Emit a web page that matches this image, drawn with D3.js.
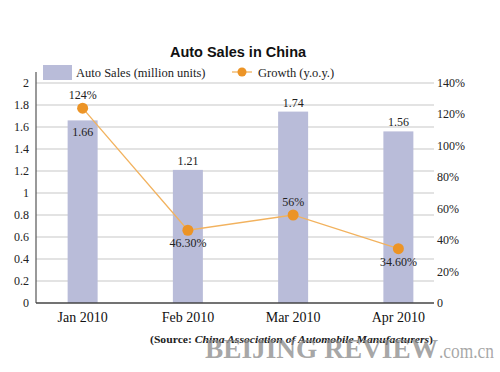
<!DOCTYPE html>
<html>
<head>
<meta charset="utf-8">
<script src="https://cdn.jsdelivr.net/npm/d3@7"></script>
<style>
  body { margin: 0; background: #fff; }
  svg { display: block; }
</style>
</head>
<body>
<div id="root"></div>
<script>
const width = 500;
const height = 372;

const months = ['Jan 2010', 'Feb 2010', 'Mar 2010', 'Apr 2010'];
const sales = [1.66, 1.21, 1.74, 1.56];
const growth = [124, 46.3, 56, 34.6];
const salesLabels = ['1.66', '1.21', '1.74', '1.56'];
const growthLabels = ['124%', '46.30%', '56%', '34.60%'];
const leftTicks = [0, 0.2, 0.4, 0.6, 0.8, 1, 1.2, 1.4, 1.6, 1.8, 2];
const rightTicks = [0, 20, 40, 60, 80, 100, 120, 140];

const barColor = '#b9bcd9';
const lineColor = '#f2b25e';
const dotColor = '#ec9426';
const serif = '"Liberation Serif", "DejaVu Serif", serif';

const svg = d3.select('#root').append('svg')
  .attr('width', width)
  .attr('height', height);

// scales
const x = d3.scalePoint().domain(months).range([30, 451]).padding(0.5);
const y = d3.scaleLinear().domain([0, 2]).range([303, 83]);
const yR = d3.scaleLinear().domain([0, 140]).range([303, 83]);
const plotLeft = 36, plotRight = 434;
const barW = 30;

// grid
svg.append('g')
  .selectAll('line')
  .data(leftTicks.slice(1)).enter()
  .append('line')
    .attr('x1', plotLeft).attr('x2', plotRight)
    .attr('y1', d => y(d)).attr('y2', d => y(d))
    .style('stroke', '#c8c8c8')
    .style('stroke-width', 1.2);

// bars
svg.append('g')
  .selectAll('rect')
  .data(sales).enter()
  .append('rect')
    .attr('x', (d, i) => x(months[i]) - barW / 2)
    .attr('y', d => y(d))
    .attr('width', barW)
    .attr('height', d => y(0) - y(d))
    .style('fill', barColor);

// axes lines
svg.append('line')
  .attr('x1', plotLeft).attr('x2', plotLeft)
  .attr('y1', 72).attr('y2', y(0))
  .style('stroke', '#555').style('stroke-width', 1.2);
svg.append('line')
  .attr('x1', plotLeft).attr('x2', plotRight)
  .attr('y1', y(0)).attr('y2', y(0))
  .style('stroke', '#444').style('stroke-width', 1.5);

// left tick labels
svg.append('g')
  .selectAll('text')
  .data(leftTicks).enter()
  .append('text')
    .attr('x', 29)
    .attr('y', d => y(d) + 4)
    .attr('text-anchor', 'end')
    .style('font-family', serif)
    .style('font-size', '12px')
    .style('fill', '#222')
    .text(d => d3.format('~g')(d));

// right tick labels
svg.append('g')
  .selectAll('text')
  .data(rightTicks).enter()
  .append('text')
    .attr('x', 437)
    .attr('y', d => yR(d) + 4)
    .style('font-family', serif)
    .style('font-size', '12px')
    .style('fill', '#222')
    .text(d => d === 0 ? '0' : d + '%');

// x labels
svg.append('g')
  .selectAll('text')
  .data(months).enter()
  .append('text')
    .attr('x', d => x(d))
    .attr('y', 322)
    .attr('text-anchor', 'middle')
    .style('font-family', serif)
    .style('font-size', '14px')
    .style('fill', '#111')
    .text(d => d);

// growth line
const line = d3.line()
  .x((d, i) => x(months[i]))
  .y(d => yR(d));

svg.append('path')
  .datum(growth)
  .attr('d', line)
  .style('fill', 'none')
  .style('stroke', lineColor)
  .style('stroke-width', 1.3);

svg.append('g')
  .selectAll('circle')
  .data(growth).enter()
  .append('circle')
    .attr('cx', (d, i) => x(months[i]))
    .attr('cy', d => yR(d))
    .attr('r', 5.5)
    .style('fill', dotColor);

// bar value labels: first inside bar, others above
svg.append('g')
  .selectAll('text')
  .data(sales).enter()
  .append('text')
    .attr('x', (d, i) => x(months[i]))
    .attr('y', (d, i) => i === 0 ? y(d) + 16 : y(d) - 5)
    .attr('text-anchor', 'middle')
    .style('font-family', serif)
    .style('font-size', '12px')
    .style('fill', '#222')
    .text((d, i) => salesLabels[i]);

// growth labels: above for Jan / Mar, below for Feb / Apr
const growthAbove = [true, false, true, false];
svg.append('g')
  .selectAll('text')
  .data(growth).enter()
  .append('text')
    .attr('x', (d, i) => x(months[i]))
    .attr('y', (d, i) => growthAbove[i] ? yR(d) - 9 : yR(d) + 17)
    .attr('text-anchor', 'middle')
    .style('font-family', serif)
    .style('font-size', '12px')
    .style('fill', '#222')
    .text((d, i) => growthLabels[i]);

// legend
const legend = svg.append('g');
legend.append('rect')
  .attr('x', 40).attr('y', 62).attr('width', 306).attr('height', 20)
  .style('fill', '#fff');
legend.append('rect')
  .attr('x', 43).attr('y', 65).attr('width', 29).attr('height', 15)
  .style('fill', barColor);
legend.append('text')
  .attr('x', 76).attr('y', 77)
  .style('font-family', serif).style('font-size', '12.5px').style('fill', '#222')
  .text('Auto Sales (million units)');
legend.append('line')
  .attr('x1', 232).attr('x2', 252).attr('y1', 72).attr('y2', 72)
  .style('stroke', lineColor).style('stroke-width', 1.3);
legend.append('circle')
  .attr('cx', 242).attr('cy', 72).attr('r', 4.5)
  .style('fill', dotColor);
legend.append('text')
  .attr('x', 258).attr('y', 77)
  .style('font-family', serif).style('font-size', '12.5px').style('fill', '#222')
  .text('Growth (y.o.y.)');

// title
svg.append('text')
  .attr('x', 238).attr('y', 57)
  .attr('text-anchor', 'middle')
  .style('font-family', '"Liberation Sans", Arial, sans-serif')
  .style('font-weight', 'bold')
  .style('font-size', '14.5px')
  .style('fill', '#111')
  .text('Auto Sales in China');

// source
svg.append('text')
  .attr('x', 150).attr('y', 343)
  .attr('textLength', 283)
  .attr('lengthAdjust', 'spacingAndGlyphs')
  .style('font-family', serif)
  .style('font-size', '10.5px')
  .style('font-weight', 'bold')
  .style('fill', '#222')
  .html('(Source: <tspan font-style="italic">China Association of Automobile Manufacturers</tspan>)');

// watermark
const wm = svg.append('text')
  .attr('x', 205).attr('y', 358)
  .style('font-family', serif)
  .style('fill', '#8a8a8a')
  .style('fill-opacity', 0.75);
wm.append('tspan')
  .attr('textLength', 233)
  .attr('lengthAdjust', 'spacingAndGlyphs')
  .style('font-size', '27px')
  .style('font-weight', 'bold')
  .text('BEIJING REVIEW');
wm.append('tspan')
  .attr('x', 439)
  .attr('textLength', 55)
  .attr('lengthAdjust', 'spacingAndGlyphs')
  .style('font-size', '21px')
  .text('.com.cn');
</script>
</body>
</html>
